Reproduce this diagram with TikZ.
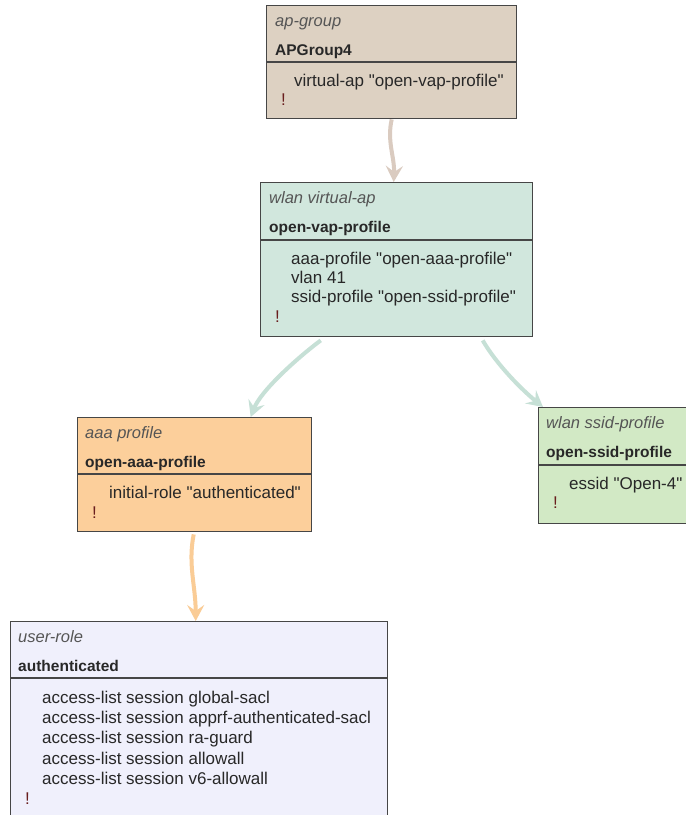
\documentclass[tikz,border=0pt]{standalone}
\usepackage{fontspec}
\setmainfont{Liberation Sans}[Ligatures=TeXOff]
\usetikzlibrary{arrows.meta}
\definecolor{fillA}{RGB}{221,209,194}
\definecolor{fillB}{RGB}{209,231,221}
\definecolor{fillC}{RGB}{252,207,155}
\definecolor{fillD}{RGB}{210,233,197}
\definecolor{fillE}{RGB}{240,240,252}
\definecolor{arrA}{RGB}{218,203,192}
\definecolor{arrB}{RGB}{198,224,214}
\definecolor{arrC}{RGB}{250,204,150}
\definecolor{frame}{RGB}{70,70,70}
\definecolor{txt}{RGB}{40,40,40}
\definecolor{typetxt}{RGB}{85,85,85}
\definecolor{bang}{RGB}{105,30,30}
\tikzset{
  cfgbox/.style={draw=frame, line width=1.4pt, rectangle, inner sep=0pt, anchor=north west},
  divline/.style={draw=frame, line width=1.4pt},
  typelbl/.style={anchor=base west, inner sep=0pt, text=typetxt, font=\fontsize{16.5}{20}\selectfont\itshape},
  namelbl/.style={anchor=base west, inner sep=0pt, text=txt, font=\fontsize{15.5}{20}\selectfont\bfseries},
  bodylbl/.style={anchor=base west, inner sep=0pt, text=txt, font=\fontsize{17}{20}\selectfont, align=left},
  banglbl/.style={anchor=base west, inner sep=0pt, text=bang, font=\fontsize{17}{20}\selectfont},
  link/.style={line width=4pt, -{Stealth[length=16pt, width=17pt, inset=6pt]}},
}
\begin{document}
\begin{tikzpicture}[x=1pt, y=-1pt]
\useasboundingbox (0,0) rectangle (686,815);
\clip (0,0) rectangle (686,815);
\fill[white] (0,0) rectangle (686,815);

% Box 1: ap-group
\node[cfgbox, fill=fillA, minimum width=250pt, minimum height=113pt] (b1) at (266,5) {};
\draw[divline] ([yshift=-57pt]b1.north west) -- ([yshift=-57pt]b1.north east);
\node[typelbl] (b1t) at ([xshift=9pt, yshift=-21pt]b1.north west) {ap-group};
\node[namelbl] (b1n) at ([xshift=9pt, yshift=-50pt]b1.north west) {APGroup4};
\node[bodylbl] (b1b) at ([xshift=28pt, yshift=-81pt]b1.north west) {virtual-ap "open-vap-profile"};
\node[banglbl] (b1x) at ([xshift=15pt, yshift=-100pt]b1.north west) {!};

% Box 2: wlan virtual-ap
\node[cfgbox, fill=fillB, minimum width=272pt, minimum height=154pt] (b2) at (260,182) {};
\draw[divline] ([yshift=-58pt]b2.north west) -- ([yshift=-58pt]b2.north east);
\node[typelbl] (b2t) at ([xshift=9pt, yshift=-21pt]b2.north west) {wlan virtual-ap};
\node[namelbl] (b2n) at ([xshift=9pt, yshift=-50pt]b2.north west) {open-vap-profile};
\node[bodylbl] (b2b1) at ([xshift=31pt, yshift=-82pt]b2.north west) {aaa-profile "open-aaa-profile"};
\node[bodylbl] (b2b2) at ([xshift=31pt, yshift=-101pt]b2.north west) {vlan 41};
\node[bodylbl] (b2b3) at ([xshift=31pt, yshift=-120pt]b2.north west) {ssid-profile "open-ssid-profile"};
\node[banglbl] (b2x) at ([xshift=15pt, yshift=-140pt]b2.north west) {!};

% Box 3: aaa profile
\node[cfgbox, fill=fillC, minimum width=234pt, minimum height=114pt] (b3) at (77,417) {};
\draw[divline] ([yshift=-57pt]b3.north west) -- ([yshift=-57pt]b3.north east);
\node[typelbl] (b3t) at ([xshift=8pt, yshift=-21pt]b3.north west) {aaa profile};
\node[namelbl] (b3n) at ([xshift=8pt, yshift=-50pt]b3.north west) {open-aaa-profile};
\node[bodylbl] (b3b) at ([xshift=32pt, yshift=-81pt]b3.north west) {initial-role "authenticated"};
\node[banglbl] (b3x) at ([xshift=15pt, yshift=-101pt]b3.north west) {!};

% Box 4: wlan ssid-profile
\node[cfgbox, fill=fillD, minimum width=170pt, minimum height=116pt] (b4) at (538,407) {};
\draw[divline] ([yshift=-58pt]b4.north west) -- ([yshift=-58pt]b4.north east);
\node[typelbl] (b4t) at ([xshift=8pt, yshift=-21pt]b4.north west) {wlan ssid-profile};
\node[namelbl] (b4n) at ([xshift=8pt, yshift=-50pt]b4.north west) {open-ssid-profile};
\node[bodylbl] (b4b) at ([xshift=31pt, yshift=-82pt]b4.north west) {essid "Open-4"};
\node[banglbl] (b4x) at ([xshift=15pt, yshift=-101pt]b4.north west) {!};

% Box 5: user-role
\node[cfgbox, fill=fillE, minimum width=377pt, minimum height=230pt] (b5) at (10,621) {};
\draw[divline] ([yshift=-57pt]b5.north west) -- ([yshift=-57pt]b5.north east);
\node[typelbl] (b5t) at ([xshift=8pt, yshift=-21pt]b5.north west) {user-role};
\node[namelbl] (b5n) at ([xshift=8pt, yshift=-50pt]b5.north west) {authenticated};
\node[bodylbl] (b5b1) at ([xshift=32pt, yshift=-82pt]b5.north west) {access-list session global-sacl};
\node[bodylbl] (b5b2) at ([xshift=32pt, yshift=-102pt]b5.north west) {access-list session apprf-authenticated-sacl};
\node[bodylbl] (b5b3) at ([xshift=32pt, yshift=-122pt]b5.north west) {access-list session ra-guard};
\node[bodylbl] (b5b4) at ([xshift=32pt, yshift=-143pt]b5.north west) {access-list session allowall};
\node[bodylbl] (b5b5) at ([xshift=32pt, yshift=-163pt]b5.north west) {access-list session v6-allowall};
\node[banglbl] (b5x) at ([xshift=15pt, yshift=-183pt]b5.north west) {!};

% Connector end points
\coordinate (c4e) at (b5.north -| b3.south);

% Connectors
\draw[link, draw=arrA] (b1.south) .. controls +(-5,22) and +(1,-25) .. ([xshift=-3pt]b2.north);
\draw[link, draw=arrB] ([xshift=-76pt, yshift=-3pt]b2.south) .. controls +(-24,18) and +(10,-26) .. ([xshift=56pt]b3.north);
\draw[link, draw=arrB] ([xshift=86pt, yshift=-3pt]b2.south) .. controls +(14,24) and +(-22,-18) .. ([xshift=5pt]b4.north west);
\draw[link, draw=arrC] ([xshift=-1pt, yshift=-2pt]b3.south) .. controls +(-6,30) and +(0,-35) .. ([xshift=1pt]c4e);
\end{tikzpicture}
\end{document}
